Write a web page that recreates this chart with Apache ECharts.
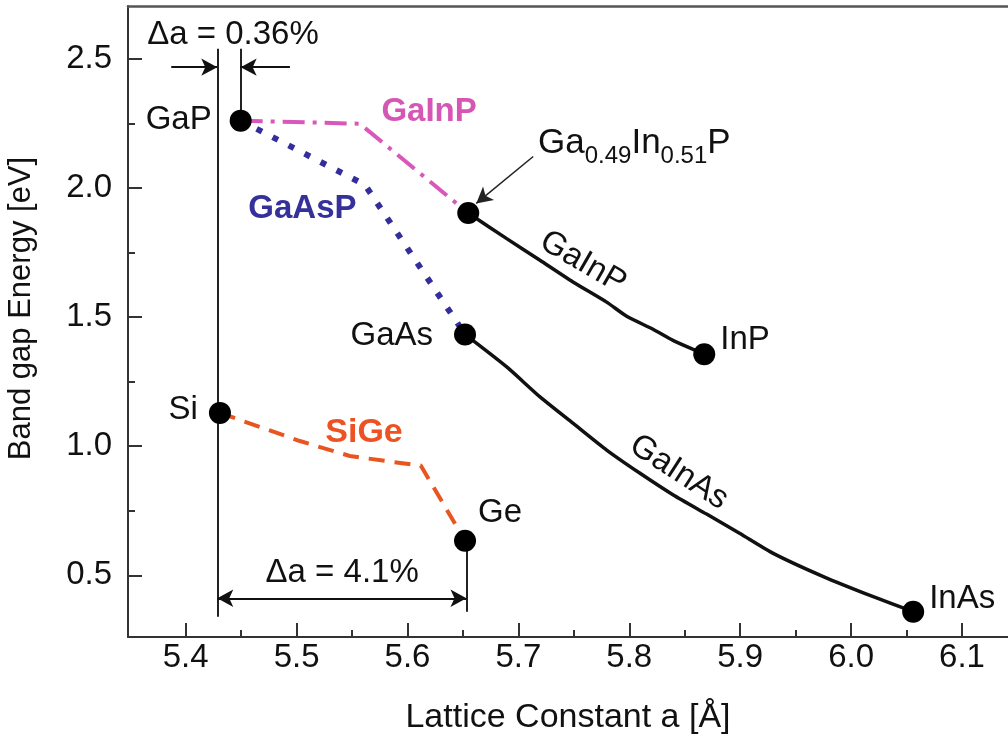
<!DOCTYPE html>
<html><head><meta charset="utf-8">
<script src="https://cdn.jsdelivr.net/npm/echarts@6/dist/echarts.min.js"></script>
<style>html,body{margin:0;padding:0;background:#fff}#c{width:1008px;height:742px}</style>
</head><body><div id="c"></div>
<script>
const FONT = '"Liberation Sans", Arial, Helvetica, sans-serif';

// ---- axis ticks ----
const xTicks = [5.4, 5.5, 5.6, 5.7, 5.8, 5.9, 6.0, 6.1];
const xMinorTicks = [5.45, 5.55, 5.65, 5.75, 5.85, 5.95, 6.05];
const yTicks = [0.5, 1.0, 1.5, 2.0, 2.5];
const yMinorTicks = [0.75, 1.25, 1.75, 2.25];

// ---- binary / ternary end points (lattice constant Å, band gap eV) ----
const pointNames   = ['GaP', 'Ga0.49In0.51P', 'GaAs', 'InP', 'Si', 'Ge', 'InAs'];
const pointLattice = [5.4496, 5.6548, 5.6519, 5.8676, 5.4309, 5.6519, 6.056];
const pointGap     = [2.261, 1.903, 1.433, 1.356, 1.129, 0.634, 0.359];

// ---- alloy curves ----
const gainpDashLattice = [5.4496, 5.557, 5.6548];
const gainpDashGap     = [2.261, 2.249, 1.903];

const gaaspLattice = [5.4496, 5.5617, 5.6519];
const gaaspGap     = [2.261, 2.012, 1.433];

const gainpLattice = [5.6548, 5.6895, 5.7195, 5.7492, 5.7796, 5.7977, 5.8214, 5.8394, 5.8676];
const gainpGap     = [1.903, 1.804, 1.720, 1.636, 1.558, 1.503, 1.453, 1.410, 1.356];

const gainasLattice = [5.6519, 5.6895, 5.7195, 5.7495, 5.7796, 5.8097, 5.8397, 5.8697, 5.8998, 5.9298, 5.975, 6.020, 6.056];
const gainasGap     = [1.433, 1.307, 1.191, 1.088, 0.985, 0.895, 0.811, 0.737, 0.662, 0.585, 0.495, 0.417, 0.359];

const sigeLattice = [5.4309, 5.503, 5.548, 5.585, 5.612, 5.6519];
const sigeGap     = [1.129, 1.020, 0.962, 0.940, 0.925, 0.634];

// ---- reference lattice constants for the Δa markers ----
const siRef = 5.4285, gapRef = 5.4496, geRef = 5.6532;

const zip = (xs, ys) => xs.map((x, i) => [x, ys[i]]);
const TXT = '#111';

const dotLabels = {
  'GaP':  {position: 'left',  distance: 18, offset: [0, -1]},
  'GaAs': {position: 'left',  distance: 21, offset: [0, 1]},
  'InP':  {position: 'right', distance: 5,  offset: [0, -14]},
  'Si':   {position: 'left',  distance: 11, offset: [0, -3]},
  'Ge':   {position: 'right', distance: 2,  offset: [0, -28]},
  'InAs': {position: 'right', distance: 5,  offset: [0, -13]}
};

const baseText = {fontFamily: FONT, fontSize: 33, color: TXT};

function note(text, a, e, extra) {
  return {value: [a, e], label: Object.assign({show: true, formatter: text, position: 'inside',
    align: 'center', verticalAlign: 'middle'}, baseText, extra || {})};
}

const notes = [
  note('GaInP', 5.6195, 2.296, {fontWeight: 'bold', color: '#d656b6'}),
  note('GaAsP', 5.5053, 1.919, {fontWeight: 'bold', color: '#35309a'}),
  note('SiGe', 5.5608, 1.052, {fontWeight: 'bold', color: '#ec5222', fontSize: 34}),
  note('GaInP', 5.7583, 1.712, {rotate: -30}),
  note('GaInAs', 5.8448, 0.8985, {rotate: -33}),
  note('Δa = 0.36%', 5.4427, 2.594, {}),
  note('Δa = 4.1%', 5.5411, 0.509, {}),
  note('{m|Ga}{s|0.49}{m|In}{s|0.51}{m|P}', 5.7177, 2.242, {align: 'left', verticalAlign: 'top',
    rich: {m: {fontFamily: FONT, fontSize: 35, color: TXT, verticalAlign: 'top'},
           s: {fontFamily: FONT, fontSize: 24, color: TXT, verticalAlign: 'top', padding: [19, 0, 0, 0]}}})
];

const lineBlack = {color: '#222', width: 2, type: 'solid'};

const option = {
  animation: false,
  backgroundColor: '#fff',
  grid: {left: 128, right: 0, top: 6, bottom: 105, outerBoundsMode: 'none', containLabel: false},
  xAxis: [
    {type: 'value', min: 5.348, max: 6.1415, position: 'bottom',
     name: 'Lattice Constant a [Å]', nameLocation: 'middle', nameGap: 64,
     nameTextStyle: {fontFamily: FONT, fontSize: 34, color: TXT},
     axisLine: {show: true, onZero: false, lineStyle: {color: '#333', width: 2}},
     axisTick: {show: true, inside: true, length: 14, customValues: xTicks, lineStyle: {color: '#333', width: 2}},
     axisLabel: {show: true, customValues: xTicks, margin: 4, formatter: v => v.toFixed(1),
       fontFamily: FONT, fontSize: 33, color: TXT},
     splitLine: {show: false}},
    {type: 'value', min: 5.348, max: 6.1415, position: 'bottom', gridIndex: 0,
     axisLine: {show: false}, axisLabel: {show: false}, splitLine: {show: false},
     axisTick: {show: true, inside: true, length: 7, customValues: xMinorTicks, lineStyle: {color: '#333', width: 2}}},
    {type: 'value', min: 5.348, max: 6.1415, position: 'top', gridIndex: 0,
     axisLine: {show: true, onZero: false, lineStyle: {color: '#555', width: 2.5}},
     axisTick: {show: false}, axisLabel: {show: false}, splitLine: {show: false}}
  ],
  yAxis: [
    {type: 'value', min: 0.261, max: 2.705, position: 'left',
     name: 'Band gap Energy [eV]', nameLocation: 'middle', nameGap: 91, nameRotate: 90,
     nameTextStyle: {fontFamily: FONT, fontSize: 31, color: TXT, padding: [0, 0, 0, 26]},
     axisLine: {show: true, onZero: false, lineStyle: {color: '#333', width: 2}},
     axisTick: {show: true, inside: true, length: 14, customValues: yTicks, lineStyle: {color: '#333', width: 2}},
     axisLabel: {show: true, customValues: yTicks, margin: 16, formatter: v => v.toFixed(1),
       fontFamily: FONT, fontSize: 33, color: TXT},
     splitLine: {show: false}},
    {type: 'value', min: 0.261, max: 2.705, position: 'left', gridIndex: 0,
     axisLine: {show: false}, axisLabel: {show: false}, splitLine: {show: false},
     axisTick: {show: true, inside: true, length: 7, customValues: yMinorTicks, lineStyle: {color: '#333', width: 2}}}
  ],
  series: [
    {type: 'line', name: 'refs', data: [], symbol: 'none', silent: true,
     markLine: {silent: true, symbol: ['none', 'none'], label: {show: false}, lineStyle: lineBlack,
       data: [
         [{coord: [siRef, 2.539]}, {coord: [siRef, 0.339]}],
         [{coord: [gapRef, 2.539]}, {coord: [gapRef, pointGap[0]]}],
         [{coord: [geRef, pointGap[5]]}, {coord: [geRef, 0.359]}]
       ]}},
    {type: 'line', name: 'arrows', data: [], symbol: 'none', silent: true,
     markLine: {silent: true, symbol: ['none', 'arrow'], symbolSize: [13, 16], label: {show: false},
       lineStyle: {color: '#111', width: 2, type: 'solid'},
       data: [
         [{coord: [5.387, 2.468]}, {coord: [siRef, 2.468]}],
         [{coord: [5.494, 2.468]}, {coord: [gapRef, 2.468]}],
         [{coord: [siRef, 0.411], symbol: 'arrow'}, {coord: [geRef, 0.411]}],
         [{coord: [5.7134, 2.1222], lineStyle: {width: 1.5, color: '#222'}}, {coord: [5.6620, 1.9404], lineStyle: {width: 1.5, color: '#222'}}]
       ]}},
    {type: 'line', name: 'GaInP (dash-dot)', data: zip(gainpDashLattice, gainpDashGap), symbol: 'none',
     lineStyle: {color: '#d957b8', width: 4, type: [22, 8, 4, 8]}, z: 3},
    {type: 'line', name: 'GaAsP', data: zip(gaaspLattice, gaaspGap), symbol: 'none',
     lineStyle: {color: '#332e9c', width: 6, type: [6, 12], cap: 'butt'}, z: 3},
    {type: 'line', name: 'SiGe', data: zip(sigeLattice, sigeGap), symbol: 'none',
     lineStyle: {color: '#e8551f', width: 4, type: [16, 10]}, z: 3},
    {type: 'line', name: 'GaInP', data: zip(gainpLattice, gainpGap), symbol: 'none', smooth: 0.2,
     lineStyle: {color: '#111', width: 3.5}, z: 4},
    {type: 'line', name: 'GaInAs', data: zip(gainasLattice, gainasGap), symbol: 'none', smooth: 0.2,
     lineStyle: {color: '#111', width: 3.5}, z: 4},
    {type: 'scatter', name: 'points', symbol: 'circle', symbolSize: 22, z: 10,
     itemStyle: {color: '#000', opacity: 1},
     data: pointLattice.map((a, i) => {
       const cfg = dotLabels[pointNames[i]];
       return {name: pointNames[i], value: [a, pointGap[i]],
         label: cfg ? Object.assign({show: true, formatter: '{b}'}, baseText, cfg) : {show: false}};
     })},
    {type: 'scatter', name: 'notes', symbolSize: 0, z: 12, silent: true,
     itemStyle: {opacity: 1}, data: notes}
  ]
};

const chart = echarts.init(document.getElementById('c'), null, {renderer: 'canvas'});
chart.setOption(option);
</script></body></html>
